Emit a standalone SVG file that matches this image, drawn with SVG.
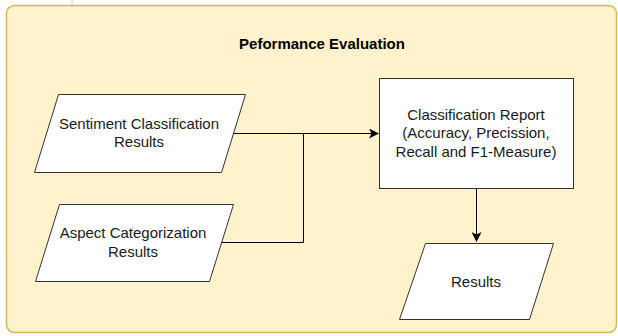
<svg xmlns="http://www.w3.org/2000/svg" width="618" height="336" viewBox="0 0 618 336">
<style>
.lbl{font-family:"Liberation Sans",Arial,sans-serif;font-size:15px;fill:#1a1a1a;text-anchor:middle}
.title{font-family:"Liberation Sans",Arial,sans-serif;font-size:15px;font-weight:bold;fill:#000;text-anchor:middle}
.shape{fill:#fff;stroke:#333;stroke-width:1}
.edge{fill:none;stroke:#000;stroke-width:1}
</style>
<defs>
<marker id="arr" viewBox="0 0 10 10" refX="9" refY="5" markerWidth="10" markerHeight="10" markerUnits="userSpaceOnUse" orient="auto">
<path d="M0,0 L10,5 L0,10 L2.5,5 Z" fill="#000"/>
</marker>
</defs>
<rect width="618" height="336" fill="#fff"/>
<line x1="72" y1="0" x2="72" y2="5" stroke="#ccc" stroke-width="1"/>
<g id="container">
<rect x="6.5" y="5.5" width="610" height="327" rx="8" ry="8" fill="#fff2cc" stroke="#d6b656" stroke-width="1.5"/>
<text class="title" x="322" y="49">Peformance Evaluation</text>
</g>
<g id="connectors">
<path class="edge" d="M233.5,133.5 H303.5 M221,242.5 H303.5 V133.5 H378" marker-end="url(#arr)"/>
<path class="edge" d="M476.5,188 V241" marker-end="url(#arr)"/>
</g>
<g id="sentiment">
<polygon class="shape" points="58.5,94.5 245.5,94.5 221.5,172.5 34.5,172.5"/>
<text class="lbl" x="139" y="129">Sentiment Classification</text>
<text class="lbl" x="139" y="147">Results</text>
</g>
<g id="aspect">
<polygon class="shape" points="59.5,204.5 233.5,204.5 209.5,281.5 35.5,281.5"/>
<text class="lbl" x="133" y="238">Aspect Categorization</text>
<text class="lbl" x="133" y="257">Results</text>
</g>
<g id="report">
<rect class="shape" x="379.5" y="78.5" width="194" height="110"/>
<text class="lbl" x="476" y="120">Classification Report</text>
<text class="lbl" x="476" y="138">(Accuracy, Precission,</text>
<text class="lbl" x="476" y="157">Recall and F1-Measure)</text>
</g>
<g id="results">
<polygon class="shape" points="425.5,243.5 553.5,243.5 529.5,319.5 399.5,319.5"/>
<text class="lbl" x="476" y="287">Results</text>
</g>
</svg>
